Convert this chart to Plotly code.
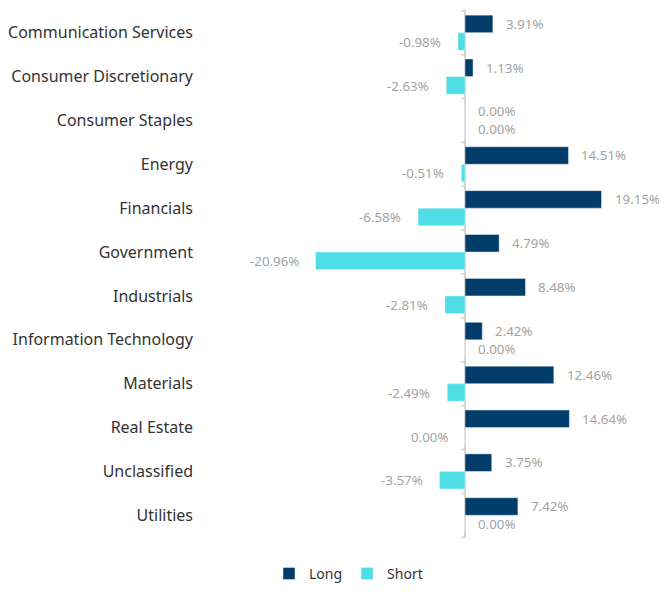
import math
import plotly.graph_objects as go

sectors = ["Communication Services", "Consumer Discretionary", "Consumer Staples",
           "Energy", "Financials", "Government", "Industrials",
           "Information Technology", "Materials", "Real Estate",
           "Unclassified", "Utilities"]
long_pct = [3.91, 1.13, 0.00, 14.51, 19.15, 4.79, 8.48, 2.42, 12.46, 14.64, 3.75, 7.42]
# -0.0 for Real Estate: its label sits on the negative side in the source
short_pct = [-0.98, -2.63, 0.00, -0.51, -6.58, -20.96, -2.81, 0.00, -2.49, -0.0, -3.57, 0.00]

navy = "#003d6b"
cyan = "#50dee6"
label_grey = "#a3a3a3"
font = "Noto Sans"

fig = go.Figure()
fig.add_trace(go.Bar(y=sectors, x=long_pct, name="Long", orientation="h",
                     marker=dict(color=navy), hoverinfo="x+y"))
fig.add_trace(go.Bar(y=sectors, x=short_pct, name="Short", orientation="h",
                     marker=dict(color=cyan), hoverinfo="x+y"))

# value labels, pushed a bit away from bar ends
for vals, shift in [(long_pct, 9), (short_pct, -9)]:
    for cat, v in zip(sectors, vals):
        neg = math.copysign(1, v) < 0
        fig.add_annotation(x=v, y=cat, text=f"{v:.2f}%".replace("-0.00", "0.00"),
                           showarrow=False,
                           xanchor="right" if neg else "left",
                           xshift=-15 if neg else 11, yshift=shift,
                           font=dict(size=13.3, color=label_grey, family=font))

# little ticks on the zero line at category boundaries
for i in range(len(sectors) + 1):
    fig.add_shape(type="line", xref="x", yref="y", xsizemode="pixel", xanchor=0,
                  x0=-4, x1=0, y0=i - 0.5, y1=i - 0.5,
                  line=dict(color="#d4d4d4", width=1.5))

# page adds an 8px body margin, so the figure is 16px smaller than the window
fig.update_layout(
    width=651, height=578,
    margin=dict(l=192, r=2, t=2, b=48, autoexpand=False),
    barmode="group", bargap=0.2, bargroupgap=0,
    plot_bgcolor="white", paper_bgcolor="white",
    font=dict(family=font, color="#333333", size=15),
    showlegend=True,
    legend=dict(orientation="h", x=0.325, xanchor="center",
                y=-0.068, yanchor="middle",
                font=dict(size=14, color="#333333"), itemwidth=30,
                traceorder="normal"),
    xaxis=dict(range=[-37.17, 26.93], showgrid=False, showticklabels=False,
               zeroline=True, zerolinecolor="#d4d4d4", zerolinewidth=2,
               fixedrange=True),
    yaxis=dict(autorange="reversed", showgrid=False, showline=False,
               ticks="", ticklabelstandoff=6, tickfont=dict(size=16, color="#333333")),
)

fig.write_html("out.html")
